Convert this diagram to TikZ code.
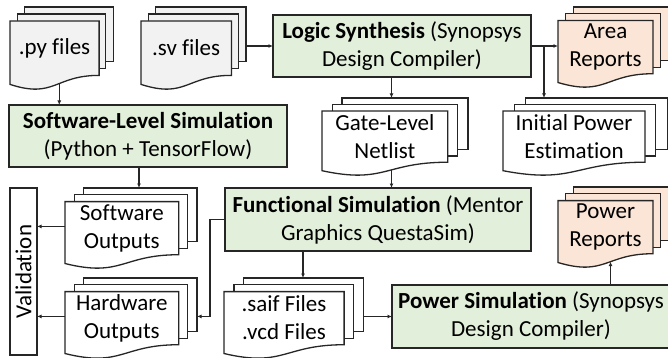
\documentclass[tikz,border=0pt]{standalone}
\usepackage{fontspec}
\setmainfont{Carlito}[Ligatures=NoCommon]
\usetikzlibrary{arrows.meta,calc}
\definecolor{gfill}{HTML}{E2EFDA}
\definecolor{ofill}{HTML}{FBE5D6}
\definecolor{dfill}{HTML}{F2F2F2}
\definecolor{lcol}{HTML}{262626}
% multidocument: name, x, y, W, H, fill, text
\newcommand{\mdoc}[7]{%
  \filldraw[shp, fill=#6] ({#2+0.1376*#4},{#3}) rectangle ({#2+#4},{#3+0.666*#5});
  \filldraw[shp, fill=#6] ({#2+0.071*#4},{#3+0.084*#5}) rectangle ({#2+0.926*#4},{#3+0.752*#5});
  \filldraw[shp, fill=#6] ({#2},{#3+0.17*#5}) -- ({#2+0.861*#4},{#3+0.17*#5}) -- ({#2+0.861*#4},{#3+0.834*#5})
     .. controls ({#2+0.4305*#4},{#3+0.834*#5}) and ({#2+0.4305*#4},{#3+1.121*#5}) .. ({#2},{#3+0.944*#5})
     coordinate[pos=0.43] (#1-b) -- cycle;
  \coordinate (#1-tt) at ({#2+0.1376*#4},{#3});
  \coordinate (#1-tr) at ({#2+#4},{#3});
  \coordinate (#1-fl) at ({#2},{#3+0.17*#5});
  \coordinate (#1-lm) at ({#2},{#3+0.48*#5});
  \node[txt] (#1) at ({#2+0.4305*#4},{#3+0.5*#5}) {#7};
}
\begin{document}
\begin{tikzpicture}[x=1pt,y=-1pt,
  txt/.style={font=\fontsize{23}{28}\selectfont, align=center, text=black, inner sep=0pt},
  shp/.style={draw=lcol, line width=1.3pt, line join=miter},
  proc/.style={draw=lcol, line width=1.3pt, fill=gfill, txt, outer sep=0pt},
  arr/.style={draw=lcol, line width=1.1pt, -{Latex[length=4.5pt,width=4pt]}}]
\useasboundingbox (0,0) rectangle (668,358);
\clip (0,0) rectangle (668,358);

\mdoc{py}{10}{7}{103.5}{82}{dfill}{.py files}
\mdoc{sv}{141}{7}{105}{82}{dfill}{.sv files}
\mdoc{area}{558}{7}{110.3}{80}{ofill}{Area\\Reports}
\mdoc{nl}{322}{98}{146}{77}{white}{Gate-Level\\Netlist}
\mdoc{ipe}{503}{98}{165}{77}{white}{Initial Power\\Estimation}
\mdoc{swo}{65}{188}{132}{80}{white}{Software\\Outputs}
\mdoc{hwo}{65}{278}{132}{80}{white}{Hardware\\Outputs}
\mdoc{saif}{224}{278}{139.5}{80}{white}{.saif Files\\.vcd Files}
\mdoc{pr}{558}{187}{110.3}{80}{ofill}{Power\\Reports}

\node[proc, minimum width=258pt, minimum height=62pt] (LS) at (402,46)
  {\textbf{Logic Synthesis} (Synopsys\\Design Compiler)};
\node[proc, minimum width=278pt, minimum height=62pt] (SW) at (148,136)
  {\textbf{Software-Level Simulation}\\(Python + TensorFlow)};
\node[proc, minimum width=306pt, minimum height=63pt] (FS) at (378,219.5)
  {\textbf{Functional Simulation} (Mentor\\Graphics QuestaSim)};
\node[proc, minimum width=278pt, minimum height=63pt] (PS) at (531,316.5)
  {\textbf{Power Simulation} (Synopsys\\Design Compiler)};
\node[shp, fill=white, minimum width=27pt, minimum height=167pt, inner sep=0pt, outer sep=0pt] (val) at (23.5,271.5) {};
\node[txt, rotate=90] (valt) at (val.center) {Validation};

\draw[arr] (py-b) -- (py-b |- SW.north);
\draw[arr] (LS.west -| sv-tr) -- (LS.west);
\draw[arr] (LS.east) -- (LS.east -| area-fl);
\coordinate (br) at ($(LS.east)+(13,0)$);
\draw[arr] (br) -- (br |- ipe-tt);
\draw[arr] (LS.south -| nl-b) -- (nl-tt -| nl-b);
\draw[arr] (nl-b) -- (nl-b |- FS.north);
\coordinate (swx) at ($(SW.south)+(-9,0)$);
\draw[arr] (swx) -- (swx |- swo-tt);
\draw[arr] (swo-lm) -- (swo-lm -| val.east);
\draw[arr] (hwo-lm) -- (hwo-lm -| val.east);
\coordinate (fsl) at ($(FS.west)+(-15,0)$);
\draw[arr] (FS.west) -- (fsl) |- (hwo-lm -| hwo-tr);
\coordinate (fsx) at ($(FS.south)+(-75,0)$);
\draw[arr] (fsx) -- (fsx |- saif-tt);
\draw[arr] (saif-tr |- PS.west) -- (PS.west);
\draw[arr] (pr-b |- PS.north) -- (pr-b);
\end{tikzpicture}
\end{document}
